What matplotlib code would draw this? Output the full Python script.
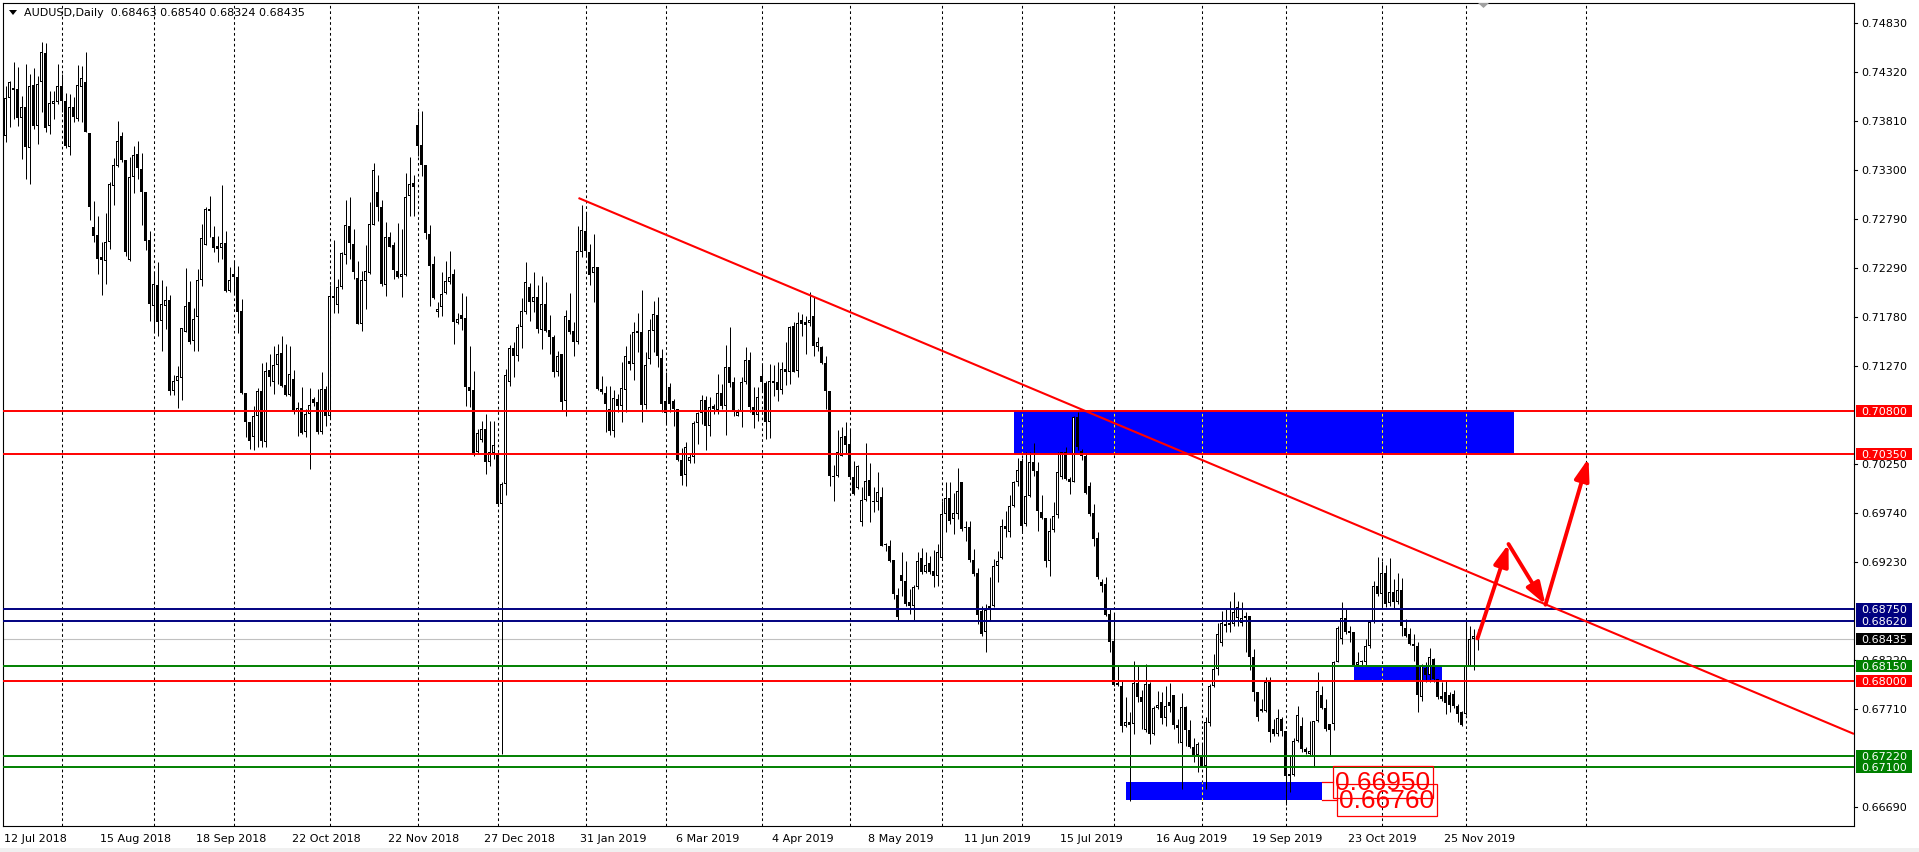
import matplotlib
matplotlib.use("Agg")
import matplotlib.pyplot as plt
import matplotlib.transforms as mtransforms
from matplotlib.patches import Rectangle, Polygon, FancyArrowPatch
from matplotlib.lines import Line2D

plt.rcParams['font.family'] = ['DejaVu Sans']

symbol = "AUDUSD"
timeframe = "Daily"

opens = [
0.73661,0.74048,0.74152,0.74145,0.73841,0.73955,0.73529,0.74187,0.73765,0.74214,
0.74519,0.73758,0.73986,0.74007,0.74173,0.74021,0.73540,0.73955,0.73834,0.74163,
0.74214,0.73689,0.72709,0.72630,0.72398,0.72356,0.72561,0.73135,0.73349,0.73654,
0.73408,0.72374,0.73228,0.73467,0.73315,0.73073,0.72574,0.71889,0.72111,0.71740,
0.71889,0.71952,0.71004,0.71111,0.71142,0.71626,0.71931,0.71533,0.71782,0.72166,
0.72529,0.72900,0.72605,0.72519,0.72491,0.72543,0.72052,0.72221,0.72190,0.71841,
0.70990,0.70685,0.70530,0.70754,0.71014,0.70478,0.71228,0.71100,0.71280,0.71405,
0.71073,0.70972,0.71135,0.70796,
0.70830,0.70581,0.70771,0.70927,0.70893,0.70588,0.71031,0.70747,0.71993,0.71903,
0.72086,0.72425,0.72726,0.72536,0.72180,0.71702,0.72155,0.72232,0.72737,0.73072,
0.72917,0.72114,0.72605,0.72526,0.72259,0.72190,0.72218,0.73031,0.73166,0.73771,
0.73564,0.73356,0.72640,0.72328,0.71827,0.71879,0.72027,0.72145,0.72225,0.71713,
0.71799,0.71765,0.71055,0.71021,0.70374,0.70505,0.70616,0.70270,0.70367,0.70356,
0.69837,0.70045,0.71100,0.71460,0.71377,0.71671,0.71834,0.72086,0.71931,0.71982,
0.71647,0.71913,0.71643,0.71567,0.71204,0.71394,0.70910,0.71751,0.71630,0.71515,
0.72450,0.72674,0.72450,0.72232,0.72294,
0.71030,0.70985,0.70823,0.70598,0.70926,0.70857,0.71023,0.71321,0.71286,0.71629,
0.71618,0.70864,0.71342,0.71636,0.71798,0.71349,0.70902,0.71051,0.70902,0.70823,
0.70293,0.70138,0.70286,0.70321,0.70674,0.70778,0.70916,0.70643,0.70850,0.70816,
0.70985,0.70857,0.71255,0.71099,0.70753,0.70788,0.71099,0.71335,0.70847,0.70760,
0.71162,0.71092,0.70691,0.71110,0.71099,0.71023,0.71238,0.71210,0.71681,0.71220,
0.71750,0.71698,0.71715,0.71784,0.71470,0.71463,0.71297,0.71006,0.70131,0.70124,
0.70338,0.70546,0.70459,0.70113,0.69999,0.69653,0.69881,0.70089,0.69871,0.69861,
0.69906,0.69421,0.69404,0.69259,0.68892,
0.69100,0.69034,0.68816,0.68781,0.68972,0.69273,0.69134,0.69221,0.69145,0.69093,
0.69273,0.69733,0.69896,0.69681,0.69733,0.70062,0.69598,0.69594,0.69259,0.69120,
0.68729,0.68505,0.68754,0.68774,0.69190,0.69273,0.69612,0.69543,0.69812,0.70062,
0.70286,0.69629,0.69916,0.70269,0.70183,0.69750,0.69691,0.69242,0.69570,0.69723,
0.70120,0.70373,0.70096,0.70069,0.70736,0.70390,0.70338,0.70020,0.69743,0.69480,
0.69024,0.69006,0.68695,0.68418,0.67958,0.67951,0.67529,0.67570,0.67553,0.67979,
0.67830,0.67484,0.67968,0.67449,0.67716,0.67778,0.67612,0.67785,0.67854,0.67543,
0.67356,0.67726,0.67494,0.67311,0.67231,
0.67206,0.67120,0.67562,0.67950,0.68123,0.68393,0.68590,0.68600,0.68590,0.68649,
0.68600,0.68677,0.68677,0.68244,0.67888,0.67708,0.67690,0.67985,0.67500,0.67448,
0.67604,0.67476,0.67009,0.67023,0.67379,0.67528,0.67293,0.67241,0.67206,0.67587,
0.67853,0.67715,0.67552,0.67552,0.68199,0.68434,0.68649,0.68521,0.68504,0.68165,
0.68192,0.68192,0.68358,0.68607,0.68981,0.68901,0.69119,0.68808,0.68919,0.68815,
0.68946,0.68545,0.68486,0.68382,0.68358,0.67829,0.68130,0.68061,0.68227,0.68019,
0.67846,0.67881,0.67853,0.67863,0.67735,0.67673,0.67656,0.68158,0.68434,0.68463,
]

highs = [
0.74180,0.74232,0.74422,0.74370,0.74076,0.74405,0.74301,0.74360,0.74284,0.74630,
0.74623,0.74128,0.74128,0.74405,0.74301,0.74104,0.74093,0.74059,0.74394,0.74380,
0.74526,0.73689,0.72986,0.72830,0.72554,0.72858,0.73176,0.73426,0.73817,0.73696,
0.73408,0.73436,0.73550,0.73609,0.73481,0.73073,0.72668,0.72242,0.72346,0.72166,
0.72104,0.72007,0.71170,0.71273,0.71661,0.72287,0.72152,0.71869,0.72277,0.72744,
0.72917,0.73031,0.72727,0.72623,0.73149,0.72675,0.72294,0.72374,0.72304,0.71965,
0.70990,0.70685,0.70858,0.71038,0.71301,0.71308,0.71394,0.71481,0.71498,0.71585,
0.71498,0.71481,0.71232,0.70893,
0.71048,0.70823,0.71038,0.70944,0.71031,0.71211,0.71066,0.72111,0.72578,0.72173,
0.72457,0.72993,0.73020,0.72692,0.72363,0.72259,0.72526,0.72969,0.73377,0.73252,
0.72996,0.72761,0.72664,0.72553,0.72754,0.72692,0.73270,0.73436,0.73252,0.73920,
0.73920,0.73356,0.72733,0.72415,0.71931,0.72249,0.72363,0.72460,0.72277,0.71820,
0.72027,0.71993,0.71481,0.71221,0.70616,0.70702,0.70771,0.70702,0.70702,0.70374,
0.70062,0.71239,0.71488,0.71515,0.71706,0.71972,0.72346,0.72131,0.72249,0.72111,
0.72200,0.72138,0.71799,0.71592,0.71429,0.71394,0.71854,0.72027,0.71723,0.72726,
0.72941,0.72872,0.72536,0.72640,0.72294,
0.71162,0.71065,0.71065,0.71023,0.70978,0.71307,0.71473,0.71601,0.71722,0.71819,
0.72058,0.71411,0.71757,0.71940,0.71985,0.71445,0.71203,0.71092,0.70926,0.70823,
0.70414,0.70477,0.70366,0.70701,0.70795,0.70968,0.70961,0.70944,0.70871,0.71186,
0.71082,0.71487,0.71670,0.71151,0.70823,0.71151,0.71463,0.71411,0.71047,0.71047,
0.71300,0.71117,0.71290,0.71279,0.71307,0.71314,0.71515,0.71688,0.71729,0.71826,
0.71809,0.71784,0.72041,0.71982,0.71566,0.71480,0.71376,0.71006,0.70241,0.70608,
0.70632,0.70684,0.70615,0.70286,0.70241,0.70009,0.70470,0.70262,0.70009,0.70172,
0.70009,0.69432,0.69466,0.69259,0.68961,
0.69335,0.69248,0.68954,0.68996,0.69335,0.69377,0.69335,0.69300,0.69363,0.69421,
0.69871,0.70062,0.70062,0.69951,0.70207,0.70062,0.69664,0.69664,0.69370,0.69169,
0.68781,0.68799,0.69075,0.69266,0.69352,0.69681,0.69767,0.69930,0.70079,0.70311,
0.70311,0.70373,0.70380,0.70470,0.70276,0.69930,0.69691,0.69688,0.69861,0.70373,
0.70380,0.70432,0.70113,0.70754,0.70795,0.70408,0.70356,0.70069,0.69837,0.69543,
0.69058,0.69075,0.68747,0.68695,0.68159,0.68003,0.67830,0.67674,0.68210,0.68166,
0.67909,0.68176,0.67986,0.67743,0.67899,0.67882,0.67951,0.67979,0.67854,0.67605,
0.67875,0.67743,0.67588,0.67404,0.67363,
0.67344,0.67621,0.67967,0.68279,0.68600,0.68728,0.68746,0.68832,0.68926,0.68832,
0.68822,0.68718,0.68677,0.68331,0.67888,0.67812,0.68036,0.68036,0.67604,0.67708,
0.67621,0.67476,0.67223,0.67403,0.67735,0.67621,0.67310,0.67587,0.67587,0.68088,
0.67950,0.67812,0.67552,0.68209,0.68573,0.68822,0.68746,0.68573,0.68504,0.68296,
0.68220,0.68434,0.68625,0.69040,0.69282,0.69247,0.69203,0.69272,0.69057,0.69119,
0.69064,0.68642,0.68545,0.68486,0.68400,0.68175,0.68192,0.68338,0.68234,0.68019,
0.67985,0.68002,0.67881,0.67908,0.67760,0.67690,0.68625,0.68573,0.68538,0.68540,
]

lows = [
0.73592,0.73747,0.73834,0.73765,0.73419,0.73211,0.73159,0.73730,0.73574,0.73903,
0.73696,0.73678,0.73834,0.73990,0.73903,0.73529,0.73460,0.73799,0.73817,0.73799,
0.73702,0.72789,0.72554,0.72225,0.72010,0.72121,0.72484,0.72941,0.73332,0.73384,
0.72415,0.72363,0.73062,0.73211,0.72737,0.72477,0.71737,0.71637,0.71585,0.71429,
0.71654,0.70969,0.70969,0.70834,0.70920,0.71619,0.71498,0.71429,0.71429,0.72104,
0.72526,0.72605,0.72450,0.72353,0.72381,0.72042,0.72042,0.72028,0.71609,0.70979,
0.70529,0.70408,0.70401,0.70426,0.70426,0.70426,0.71066,0.70979,0.71083,0.71048,
0.70962,0.70962,0.70772,0.70540,
0.70564,0.70529,0.70201,0.70858,0.70564,0.70564,0.70650,0.70720,0.71820,0.71820,
0.72069,0.72328,0.72380,0.72173,0.71706,0.71630,0.71861,0.72225,0.72733,0.72778,
0.72104,0.72000,0.72501,0.72173,0.72180,0.71982,0.72200,0.72830,0.72830,0.73453,
0.73245,0.72588,0.71896,0.71965,0.71775,0.71792,0.72017,0.72121,0.71498,0.71706,
0.71647,0.70858,0.70841,0.70332,0.70356,0.70484,0.70149,0.70235,0.70304,0.69820,
0.67240,0.69924,0.71066,0.71152,0.71325,0.71453,0.71809,0.71740,0.71834,0.71612,
0.71446,0.71619,0.71394,0.71152,0.71162,0.70806,0.70747,0.71602,0.71377,0.71498,
0.72398,0.72422,0.72111,0.71931,0.71021,
0.70978,0.70587,0.70553,0.70528,0.70788,0.70691,0.70788,0.71231,0.71127,0.71411,
0.70684,0.70823,0.71290,0.71411,0.71255,0.70788,0.70667,0.70795,0.70650,0.70286,
0.70034,0.70020,0.70262,0.70262,0.70459,0.70667,0.70400,0.70546,0.70771,0.70771,
0.70823,0.70553,0.71047,0.70746,0.70746,0.70632,0.71082,0.70788,0.70622,0.70701,
0.70996,0.70511,0.70518,0.70961,0.70909,0.70978,0.71072,0.71082,0.71203,0.71151,
0.71584,0.71393,0.71688,0.71376,0.71428,0.71290,0.70823,0.70027,0.69871,0.70113,
0.70338,0.70355,0.70096,0.69930,0.69992,0.69612,0.69871,0.69646,0.69750,0.69778,
0.69397,0.69352,0.69238,0.68850,0.68625,
0.68878,0.68781,0.68695,0.68636,0.68954,0.69110,0.69120,0.69110,0.68972,0.68982,
0.69266,0.69543,0.69629,0.69525,0.69681,0.69560,0.69456,0.69231,0.69093,0.68591,
0.68470,0.68304,0.68626,0.68764,0.69024,0.69266,0.69491,0.69491,0.69802,0.70027,
0.69543,0.69612,0.69906,0.70131,0.69560,0.69681,0.69179,0.69093,0.69543,0.69688,
0.70096,0.70089,0.69940,0.70062,0.70401,0.70297,0.69940,0.69716,0.69404,0.69058,
0.68927,0.68671,0.68297,0.67951,0.67951,0.67467,0.67518,0.66757,0.67449,0.67778,
0.67501,0.67467,0.67345,0.67439,0.67709,0.67553,0.67529,0.67674,0.67501,0.67356,
0.66878,0.67328,0.67301,0.67155,0.67051,
0.67102,0.66877,0.67535,0.67933,0.68061,0.68365,0.68504,0.68504,0.68573,0.68573,
0.68573,0.68303,0.68116,0.67794,0.67587,0.67673,0.67673,0.67369,0.67431,0.67431,
0.67431,0.66710,0.66850,0.67016,0.67369,0.67258,0.67241,0.67223,0.67102,0.67569,
0.67708,0.67483,0.67223,0.67493,0.68192,0.68382,0.68486,0.68407,0.68165,0.68158,
0.68165,0.68158,0.68338,0.68600,0.68884,0.68763,0.68763,0.68780,0.68746,0.68798,
0.68462,0.68452,0.68372,0.68209,0.67680,0.67794,0.67985,0.67985,0.67985,0.67812,
0.67794,0.67656,0.67673,0.67715,0.67569,0.67528,0.67646,0.68151,0.68116,0.68324,
]

closes = [
0.74048,0.74214,0.74138,0.73841,0.73955,0.73540,0.74173,0.73765,0.74197,0.74526,
0.73744,0.74000,0.74021,0.74173,0.74021,0.73557,0.73955,0.73851,0.74187,0.74256,
0.73702,0.72924,0.72623,0.72381,0.72374,0.72554,0.73159,0.73356,0.73602,0.73412,
0.72450,0.73228,0.73464,0.73329,0.73080,0.72564,0.71910,0.72118,0.71723,0.71910,
0.71952,0.71014,0.71114,0.71163,0.71661,0.71889,0.71516,0.71758,0.72163,0.72595,
0.72900,0.72882,0.72498,0.72484,0.72547,0.72052,0.72163,0.72190,0.71834,0.70990,
0.70685,0.70488,0.70747,0.71014,0.70488,0.71221,0.71152,0.71280,0.71394,0.71066,
0.70972,0.71183,0.70789,0.70831,
0.70571,0.70771,0.70865,0.70886,0.70588,0.71031,0.70747,0.71993,0.71972,0.72086,
0.72443,0.72733,0.72543,0.72249,0.71709,0.72162,0.72259,0.72744,0.73304,0.72917,
0.72121,0.72605,0.72508,0.72270,0.72190,0.72225,0.73020,0.73159,0.73124,0.73557,
0.73356,0.72647,0.72311,0.71976,0.71861,0.72017,0.72149,0.72190,0.71730,0.71758,
0.71758,0.71048,0.71014,0.70346,0.70574,0.70616,0.70270,0.70374,0.70450,0.69837,
0.70045,0.71176,0.71460,0.71377,0.71671,0.71844,0.72145,0.71931,0.71982,0.71654,
0.71913,0.71636,0.71567,0.71204,0.71377,0.70893,0.71785,0.71626,0.71515,0.72460,
0.72681,0.72460,0.72214,0.72294,0.71031,
0.70996,0.70874,0.70598,0.70933,0.70857,0.71037,0.71369,0.71286,0.71618,0.71608,
0.70864,0.71279,0.71646,0.71809,0.71376,0.70874,0.70778,0.70871,0.70823,0.70297,
0.70124,0.70425,0.70321,0.70674,0.70778,0.70916,0.70643,0.70840,0.70823,0.70985,
0.70850,0.71255,0.71092,0.70788,0.70788,0.71099,0.71335,0.70847,0.70760,0.70944,
0.71099,0.70691,0.71110,0.71089,0.71023,0.71238,0.71210,0.71670,0.71203,0.71712,
0.71705,0.71722,0.71750,0.71473,0.71515,0.71297,0.71006,0.70124,0.70113,0.70373,
0.70528,0.70449,0.70113,0.69940,0.70227,0.69881,0.70079,0.69916,0.69861,0.69965,
0.69397,0.69411,0.69248,0.68902,0.68660,
0.69041,0.68799,0.68781,0.68979,0.69248,0.69134,0.69207,0.69134,0.69093,0.69335,
0.69733,0.69896,0.69664,0.69743,0.69975,0.69577,0.69584,0.69259,0.69110,0.68678,
0.68487,0.68736,0.68774,0.69190,0.69242,0.69612,0.69577,0.69819,0.70062,0.70193,
0.69612,0.69916,0.70269,0.70183,0.69761,0.69691,0.69248,0.69553,0.69709,0.70172,
0.70380,0.70096,0.70069,0.70736,0.70425,0.70331,0.69951,0.69733,0.69473,0.69075,
0.68989,0.68685,0.68408,0.67958,0.67979,0.67529,0.67570,0.67536,0.67979,0.67830,
0.67778,0.67968,0.67449,0.67719,0.67750,0.67612,0.67743,0.67743,0.67543,0.67508,
0.67726,0.67494,0.67311,0.67231,0.67345,
0.67120,0.67569,0.67950,0.68123,0.68486,0.68600,0.68573,0.68580,0.68718,0.68763,
0.68649,0.68649,0.68244,0.67888,0.67621,0.67690,0.67985,0.67473,0.67448,0.67614,
0.67476,0.67009,0.67033,0.67379,0.67646,0.67293,0.67258,0.67275,0.67587,0.67898,
0.67715,0.67500,0.67493,0.68199,0.68545,0.68649,0.68511,0.68497,0.68165,0.68192,
0.68209,0.68365,0.68607,0.68981,0.68901,0.69119,0.68798,0.68919,0.68815,0.68946,
0.68566,0.68462,0.68382,0.68365,0.67853,0.68165,0.68061,0.68244,0.68019,0.67829,
0.67812,0.67770,0.67749,0.67735,0.67656,0.67542,0.68158,0.68434,0.68469,0.68435,
]

date_labels = ["12 Jul 2018", "15 Aug 2018", "18 Sep 2018", "22 Oct 2018",
               "22 Nov 2018", "27 Dec 2018", "31 Jan 2019", "6 Mar 2019",
               "4 Apr 2019", "8 May 2019", "11 Jun 2019", "15 Jul 2019",
               "16 Aug 2019", "19 Sep 2019", "23 Oct 2019", "25 Nov 2019"]
date_label_bars = [0, 24, 48, 72, 96, 120, 144, 168, 192, 216, 240, 264, 288, 312, 336, 360]
month_start_bars = [14, 37, 57, 81, 103, 123, 145, 165, 189, 211, 234, 254, 277, 299, 320, 344, 365, 395]

price_ticks = [0.74830, 0.74320, 0.73810, 0.73300, 0.72790, 0.72290, 0.71780, 0.71270,
               0.70250, 0.69740, 0.69230, 0.68220, 0.67710, 0.66690]

red_levels = [0.70800, 0.70350, 0.68000]
navy_levels = [0.68750, 0.68620]
green_levels = [0.68150, 0.67220, 0.67100]
bid_price = closes[-1]

zones = [(252, 377, 0.70350, 0.70800), (280, 329, 0.66760, 0.66950), (337, 359, 0.68000, 0.68150)]
trend_pts = [(143.25, 0.73013), (385.0, 0.68794)]
arrow_path = [(368.0, 0.68440), (375.75, 0.69420), (385.0, 0.68790), (395.75, 0.70310)]
price_labels = [(0.66950, 331.75, 356.75), (0.66760, 332.75, 357.75)]

# ---------------------------------------------------------------- figure
W, H = 1919, 853
PXU = 9631.0  # pixels per price unit (vertical scale)
fig = plt.figure(figsize=(W / 100, H / 100), dpi=100)
fig.patch.set_facecolor('white')
L_, R_, T_, B_ = 3, 1854, 4, 827
ax = fig.add_axes([L_ / W, 1 - B_ / H, (R_ - L_) / W, (B_ - T_) / H])
ax.set_xlim(-0.625, -0.625 + (R_ - L_) / 4.0)
ax.set_ylim(0.74830 - (B_ - 24) / PXU, 0.74830 + (24 - T_) / PXU)
ax.set_xticks([])
ax.set_yticks([])
for s in ax.spines.values():
    s.set_color('black')
    s.set_linewidth(0.8)

n = min(len(opens), len(highs), len(lows), len(closes))
xs = list(range(n))
px = 1.0 / PXU

dash = (0, (2.6, 2.6))
# month grid
for b in month_start_bars:
    ax.axvline(b, color='black', lw=0.75, linestyle=dash, zorder=0.5)

# zones (blue rectangles)
for x0, x1, p0, p1 in zones:
    ax.add_patch(Rectangle((x0, p0), x1 - x0, p1 - p0, facecolor='#0000FF',
                           edgecolor='none', zorder=1))
    for b in month_start_bars:
        if x0 < b < x1:
            ax.plot([b, b], [p0, p1], color='#FFFF00', lw=0.75, linestyle=dash, zorder=1.1)

# bid line
ax.axhline(bid_price, color='#C0C0C0', lw=0.8, zorder=1.5)

# candles
ax.vlines(xs, lows[:n], highs[:n], color='black', lw=0.72, zorder=2)
bottoms = [min(opens[i], closes[i]) for i in xs]
heights = [max(abs(closes[i] - opens[i]), px) for i in xs]
ax.bar(xs, heights, bottom=bottoms, width=0.75, color='black', linewidth=0, zorder=2.1)
bull = [i for i in xs if closes[i] > opens[i] and heights[i] > 2.5 * px]
ax.bar(bull, [heights[i] - 2 * px for i in bull], bottom=[bottoms[i] + px for i in bull],
       width=0.25, color='white', linewidth=0, zorder=2.2)

# horizontal levels
for lv in red_levels:
    ax.axhline(lv, color='#FF0000', lw=1.4, zorder=3)
for lv in navy_levels:
    ax.axhline(lv, color='#000080', lw=1.4, zorder=3)
for lv in green_levels:
    ax.axhline(lv, color='#008000', lw=1.4, zorder=3)

# trendline (ray to the right edge)
(tx0, tp0), (tx1, tp1) = trend_pts
xend = ax.get_xlim()[1]
pend = tp0 + (tp1 - tp0) * (xend - tx0) / (tx1 - tx0)
ax.plot([tx0, xend], [tp0, pend], color='#FF0000', lw=1.5, zorder=3.2, solid_capstyle='butt')

# arrows
for (xa, pa), (xb, pb) in zip(arrow_path[:-1], arrow_path[1:]):
    ax.add_patch(FancyArrowPatch((xa, pa), (xb, pb),
                                 arrowstyle='-|>,head_length=0.65,head_width=0.22',
                                 mutation_scale=20, color='#FF0000', lw=2.8,
                                 shrinkA=0, shrinkB=0, zorder=4))

# price labels near bottom zone
for price, bx0, bx1 in price_labels:
    half = 16 * px
    ax.add_patch(Rectangle((bx0, price - half), bx1 - bx0, 2 * half, facecolor='none',
                           edgecolor='#FF0000', lw=0.9, zorder=5))
    ax.plot([zones[1][1], bx0], [price, price], color='#FF0000', lw=0.9, zorder=5)
    ax.text((bx0 + bx1) / 2, price, f"{price:.5f}", color='#FF0000', fontsize=19,
            family=['Liberation Sans'], ha='center', va='center', zorder=5.1)

# ---------------------------------------------------------------- right price scale
tr_y = mtransforms.blended_transform_factory(fig.transFigure, ax.transData)
for t in price_ticks:
    ax.add_line(Line2D([R_ / W, (R_ + 3) / W], [t, t], transform=tr_y, color='black',
                       lw=0.8, clip_on=False, zorder=6))
    ax.text(1861 / W, t, f"{t:.5f}", transform=tr_y, fontsize=8, ha='left',
            va='center', color='black', clip_on=False, zorder=6)

tags = ([(p, '#FF0000') for p in red_levels] + [(p, '#000080') for p in navy_levels] +
        [(p, '#008000') for p in green_levels] + [(bid_price, '#000000')])
for p, col in tags:
    ax.add_patch(Rectangle((1856 / W, p - 6 * px), 56 / W, 12 * px, transform=tr_y,
                           facecolor=col, edgecolor='none', clip_on=False, zorder=7))
    ax.text(1861 / W, p, f"{p:.5f}", transform=tr_y, fontsize=8, ha='left',
            va='center', color='white', clip_on=False, zorder=8)

# ---------------------------------------------------------------- time scale
tr_x = mtransforms.blended_transform_factory(ax.transData, fig.transFigure)
for b, lab in zip(date_label_bars, date_labels):
    ax.text(b - 0.4, 1 - 839 / H, lab, transform=tr_x, fontsize=8, ha='left',
            va='center', color='black', clip_on=False)

# ---------------------------------------------------------------- header & decorations
def fp(x, y):
    return (x / W, 1 - y / H)

fig.patches.append(Polygon([fp(9, 11), fp(17, 11), fp(13, 16)], closed=True,
                           transform=fig.transFigure, facecolor='black', edgecolor='none'))
fig.text(24 / W, 1 - 13.5 / H,
         f"{symbol},{timeframe}  {opens[n-1]:.5f} {highs[n-1]:.5f} {lows[n-1]:.5f} {closes[n-1]:.5f}",
         fontsize=8, ha='left', va='center', color='black')
fig.patches.append(Polygon([fp(1478, 4), fp(1489, 4), fp(1483.5, 9)], closed=True,
                           transform=fig.transFigure, facecolor='#A0A0A0', edgecolor='none'))
fig.patches.append(Rectangle((0, 0), 1, 4 / H, transform=fig.transFigure,
                             facecolor='#F0F0F0', edgecolor='none'))

fig.savefig("out.png", dpi=100)
